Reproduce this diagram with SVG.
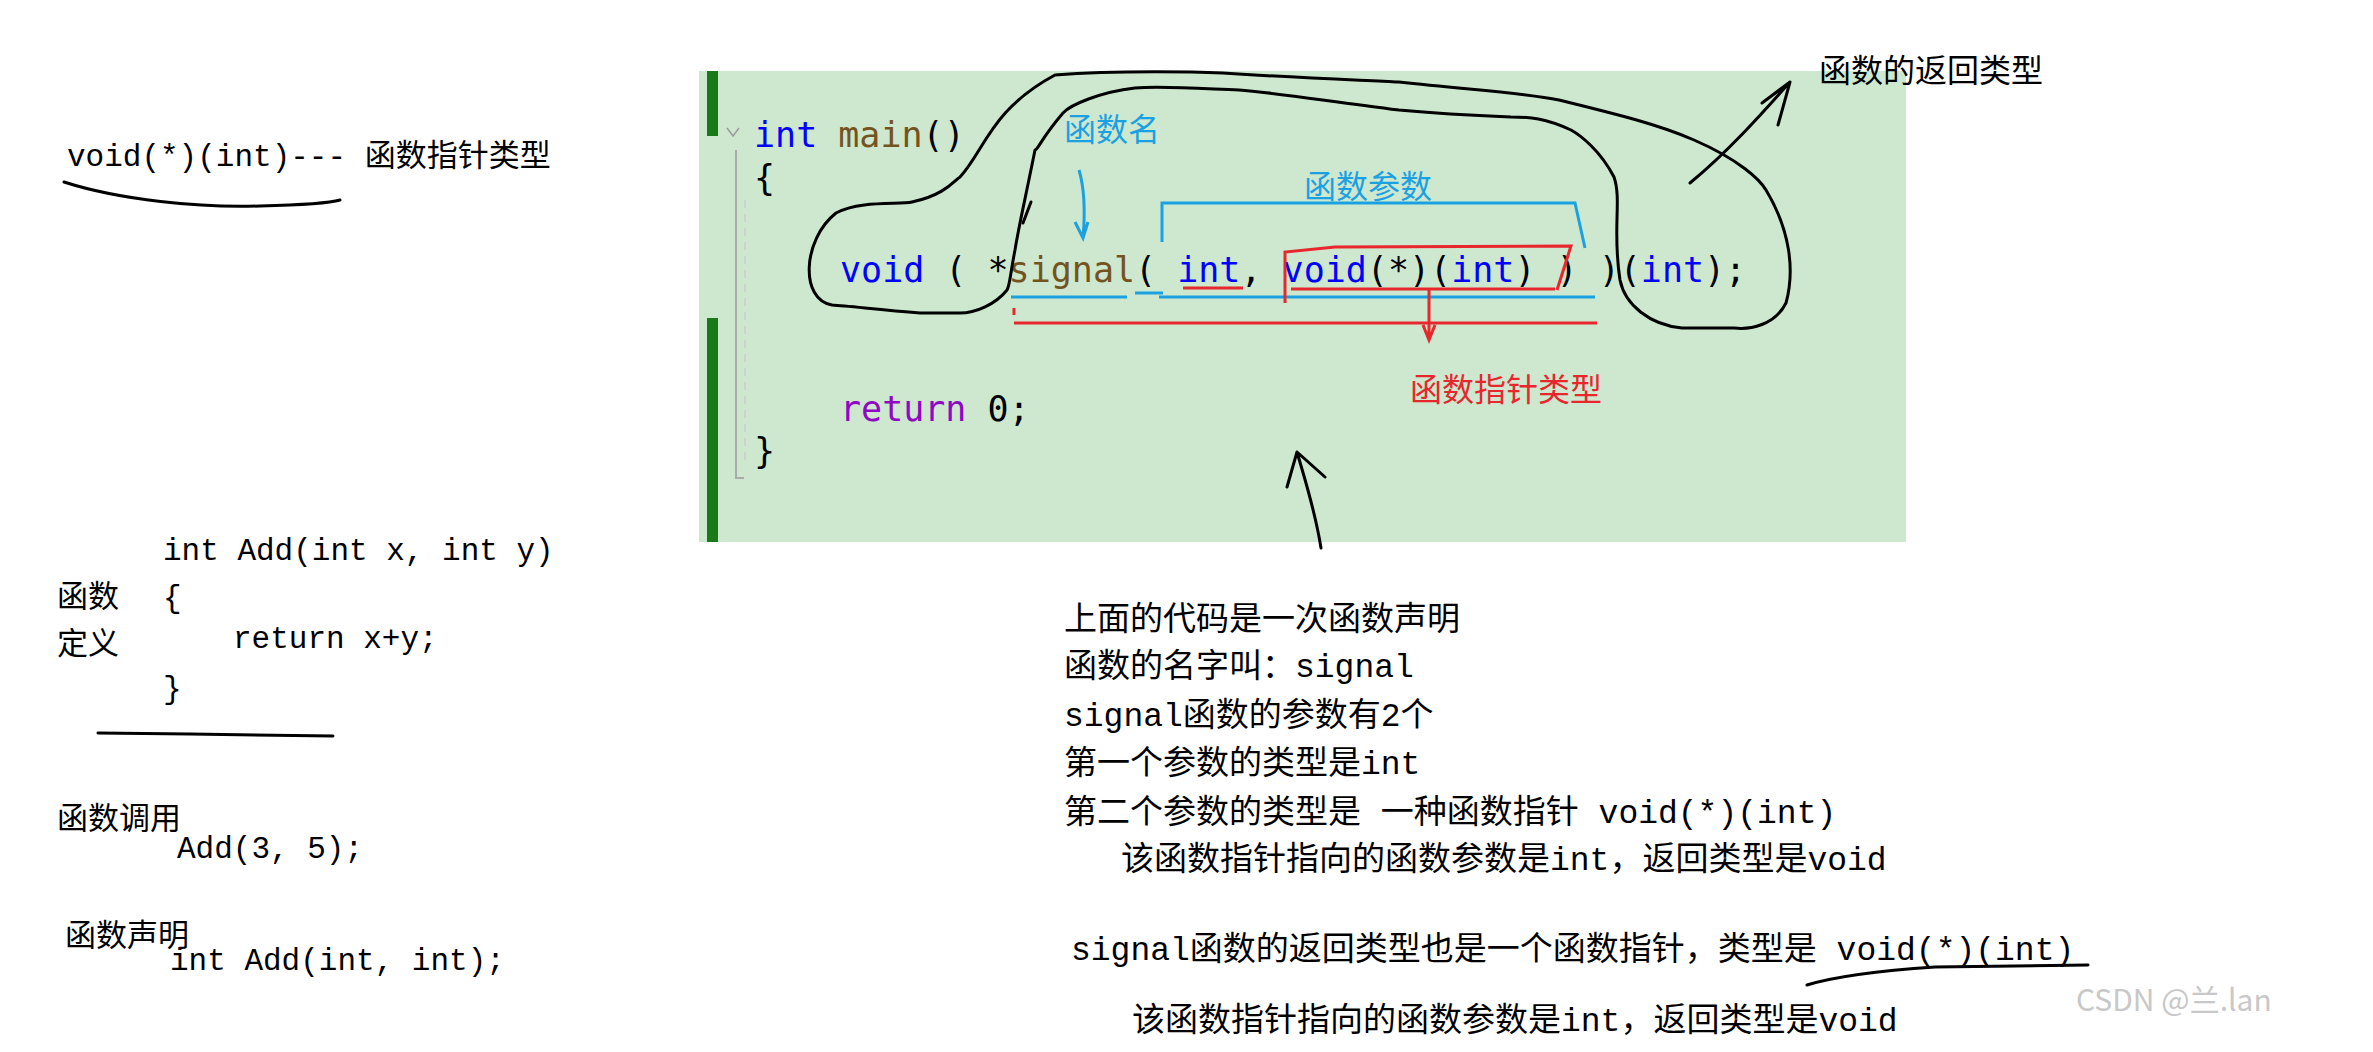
<svg xmlns="http://www.w3.org/2000/svg" width="2373" height="1052" viewBox="0 0 2373 1052">
<style>
.code{font-family:"DejaVu Sans Mono","Liberation Mono",monospace;font-size:35px}
.kw{fill:#0000ff}.fn{fill:#74531f}.rt{fill:#8f08c4}.bk{fill:#000}
.note{font-family:"Liberation Mono","Noto Sans CJK SC",monospace;font-size:33px;fill:#000}
.lab{font-family:"Noto Sans CJK SC",sans-serif;font-size:32px}
.mono{font-family:"Liberation Mono","Noto Sans CJK SC",monospace;font-size:31px;fill:#000}
.cn{font-family:"Noto Sans CJK SC",serif;font-size:31px;fill:#000}
.ink{fill:none;stroke:#000;stroke-width:3;stroke-linecap:round;stroke-linejoin:round}
.cy{fill:none;stroke:#1ba1e2;stroke-width:3}
.rd{fill:none;stroke:#e8262d;stroke-width:3}
</style>
<rect width="2373" height="1052" fill="#fff"/>
<g id="editor">
<rect x="699" y="71" width="1207" height="471" fill="#cde8cf"/>
<rect x="707" y="71" width="11" height="65" fill="#1a7a1a"/>
<rect x="707" y="318" width="11" height="224" fill="#1a7a1a"/>
<path d="M727 128 l6 8 l6 -8" fill="none" stroke="#999" stroke-width="1.5"/>
<path d="M736 150 V478 H744" fill="none" stroke="#aaa" stroke-width="2"/>
<path d="M745 200 V460" fill="none" stroke="#ccc" stroke-width="1.5" stroke-dasharray="8 6"/>
<text class="code" x="754" y="147"><tspan class="kw">int</tspan> <tspan class="fn">main</tspan>()</text>
<text class="code" x="754" y="190">{</text>
<text class="code" x="840" y="282"><tspan class="kw">void</tspan> ( *<tspan class="fn">signal</tspan>( <tspan class="kw">int</tspan>, <tspan class="kw">void</tspan>(*)(<tspan class="kw">int</tspan>) ) )(<tspan class="kw">int</tspan>);</text>
<text class="code" x="840" y="421"><tspan class="rt">return</tspan> 0;</text>
<text class="code" x="754" y="463">}</text>
</g>
<g id="labels">
<text class="lab" x="1064" y="141" fill="#1ba1e2">函数名</text>
<text class="lab" x="1304" y="198" fill="#1ba1e2">函数参数</text>
<text class="lab" x="1410" y="401" fill="#e8262d">函数指针类型</text>
<text class="lab" x="1819" y="82" fill="#000" font-size="30">函数的返回类型</text>
</g>
<g id="connectors">
<path class="ink" d="M832 305 C800 300 802 240 836 213 C860 200 900 205 912 202 C945 195 955 180 960 177 C985 150 990 110 1055 75 C1120 70 1200 72 1223 73 C1300 78 1360 80 1399 82 C1470 90 1520 92 1559 100 C1620 115 1660 125 1694 140 C1740 160 1760 180 1766 190 C1790 230 1795 270 1786 303 C1775 325 1750 330 1734 328 L1682 328 C1650 325 1625 305 1620 280 C1612 230 1622 200 1614 177 C1600 150 1580 135 1571 130 C1545 118 1530 117 1511 117 C1460 115 1420 112 1399 110 C1320 100 1270 92 1239 90 C1190 88 1160 86 1135 88 C1100 92 1070 105 1063 113 C1040 140 1038 150 1035 150 C1025 200 1018 230 1015 250 C1010 275 1010 285 1007 290 C995 305 975 313 960 313 L920 313 C880 310 850 306 832 305"/>
<path class="ink" d="M1031 202 L1023 223"/>
<path class="ink" d="M1690 183 C1730 150 1765 110 1790 82 M1762 103 L1790 82 L1778 125"/>
<path class="ink" d="M1321 548 C1315 510 1305 480 1297 452 M1287 487 L1297 452 L1325 477"/>
<path class="cy" d="M1079 170 C1085 190 1085 215 1083 238 M1075 222 L1083 238 L1088 222"/>
<path class="cy" d="M1162 242 V203 H1575 L1585 248"/>
<path class="cy" d="M1011 297 H1127 M1135 293 H1163 M1159 297 H1595"/>
<path class="rd" d="M1183 288 H1243 M1291 289 H1555 M1285 303 V252 L1335 247 L1571 246 L1557 290 M1014 308 V315 M1014 323 H1597 M1429 290 V340 M1423 325 L1429 340 L1435 325"/>
<path class="ink" d="M64 182 C120 200 200 208 260 206 C300 205 330 203 340 200"/>
<path class="ink" d="M98 733 L190 734 L333 736" stroke-width="2"/>
<path class="ink" d="M1807 985 C1840 975 1890 970 1935 967 L2088 965"/>
</g>
<g id="left">
<text class="mono" x="67" y="166">void(*)(int)--- <tspan class="cn">函数指针类型</tspan></text>
<text class="mono" x="163" y="560">int Add(int x, int y)</text>
<text class="mono" x="163" y="607">{</text>
<text class="mono" x="233" y="648">return x+y;</text>
<text class="mono" x="163" y="698">}</text>
<text class="cn" x="57" y="607">函数</text>
<text class="cn" x="57" y="654">定义</text>
<text class="cn" x="57" y="829">函数调用</text>
<text class="mono" x="177" y="858">Add(3, 5);</text>
<text class="cn" x="65" y="946">函数声明</text>
<text class="mono" x="170" y="970">int Add(int, int);</text>
</g>
<g id="notes">
<text class="note" x="1064" y="630">上面的代码是一次函数声明</text>
<text class="note" x="1064" y="677">函数的名字叫：signal</text>
<text class="note" x="1064" y="726">signal函数的参数有2个</text>
<text class="note" x="1064" y="774">第一个参数的类型是int</text>
<text class="note" x="1064" y="823">第二个参数的类型是 一种函数指针   void(*)(int)</text>
<text class="note" x="1121" y="870">该函数指针指向的函数参数是int，返回类型是void</text>
<text class="note" x="1071" y="960">signal函数的返回类型也是一个函数指针，类型是 void(*)(int)</text>
<text class="note" x="1132" y="1031">该函数指针指向的函数参数是int，返回类型是void</text>
<text x="2076" y="1011" font-family="Noto Sans CJK SC,sans-serif" font-size="30" fill="#c8c8c8">CSDN @兰.lan</text>
</g>
</svg>
